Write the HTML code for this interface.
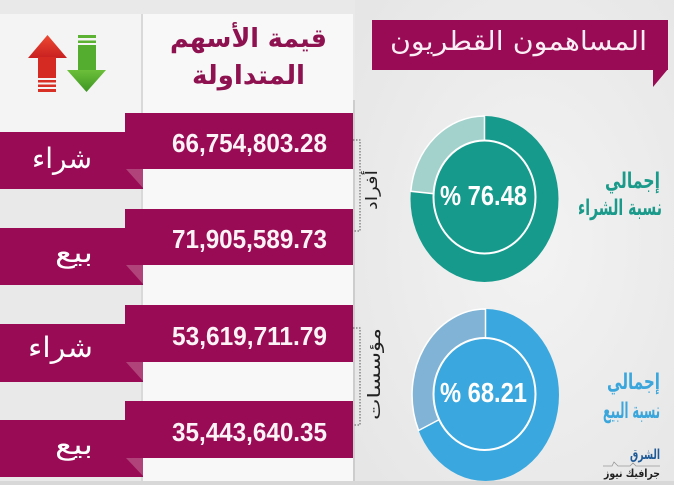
<!DOCTYPE html>
<html><head><meta charset="utf-8">
<style>
html,body{margin:0;padding:0;background:#e9e9e9;}
svg{display:block;}
.ar{font-family:"DejaVu Sans","Liberation Sans",sans-serif;}
.num{font-family:"Liberation Sans",sans-serif;font-weight:bold;}
</style></head>
<body>
<svg width="674" height="485" viewBox="0 0 674 485" xmlns="http://www.w3.org/2000/svg">
<defs>
  <radialGradient id="bgR" cx="0.55" cy="0.5" r="0.7">
    <stop offset="0" stop-color="#f3f3f3"/>
    <stop offset="1" stop-color="#e6e6e6"/>
  </radialGradient>
  <linearGradient id="red" x1="0" y1="0" x2="0" y2="1">
    <stop offset="0" stop-color="#ee4a33"/>
    <stop offset="1" stop-color="#c81f1f"/>
  </linearGradient>
  <linearGradient id="green" x1="0" y1="0" x2="0" y2="1">
    <stop offset="0" stop-color="#6bbf3a"/>
    <stop offset="1" stop-color="#3e9624"/>
  </linearGradient>
</defs>

<!-- backgrounds -->
<rect x="0" y="0" width="674" height="485" fill="#e9e9e9"/>
<rect x="355" y="0" width="319" height="485" fill="url(#bgR)"/>
<rect x="0" y="14" width="141" height="118" fill="#f4f4f4"/>
<rect x="141" y="14" width="2" height="471" fill="#d9d9d9"/>
<rect x="143" y="14" width="210" height="471" fill="#f8f8f8"/>
<rect x="353" y="100" width="2" height="385" fill="#cdcdcd"/>
<rect x="0" y="481" width="674" height="4" fill="#d8d8d8"/>

<!-- arrows -->
<polygon points="28,58 67,58 47.5,35" fill="url(#red)"/>
<rect x="38" y="57" width="18" height="21" fill="#d42a22"/>
<rect x="38" y="80" width="18" height="2.5" fill="#d93025"/>
<rect x="38" y="84.5" width="18" height="2.5" fill="#d93025"/>
<rect x="38" y="89" width="18" height="3" fill="#d93025"/>

<rect x="78" y="35" width="18" height="3" fill="#5cb233"/>
<rect x="78" y="40.5" width="18" height="2.5" fill="#5cb233"/>
<rect x="78" y="45" width="18" height="26" fill="#55ad2f"/>
<polygon points="67,70 106,70 86.5,92" fill="url(#green)"/>

<!-- header middle -->
<text class="ar" x="248.5" y="47" font-size="26" font-weight="bold" fill="#8e1150" text-anchor="middle" textLength="157" lengthAdjust="spacingAndGlyphs">قيمة الأسهم</text>
<text class="ar" x="248.5" y="84" font-size="26" font-weight="bold" fill="#8e1150" text-anchor="middle" textLength="113" lengthAdjust="spacingAndGlyphs">المتداولة</text>

<!-- bars -->
<g fill="#990c55">
  <rect x="125" y="113" width="228" height="56"/>
  <rect x="0" y="132" width="143" height="57"/>
  <rect x="125" y="209" width="228" height="56"/>
  <rect x="0" y="228" width="143" height="57"/>
  <rect x="125" y="305" width="228" height="57"/>
  <rect x="0" y="324" width="143" height="58"/>
  <rect x="125" y="401" width="228" height="57"/>
  <rect x="0" y="420" width="143" height="57"/>
</g>
<g fill="#b0447a">
  <polygon points="126,169 143,169 143,188"/>
  <polygon points="126,265 143,265 143,284"/>
  <polygon points="126,362 143,362 143,381"/>
  <polygon points="126,458 143,458 143,476"/>
</g>

<!-- numbers -->
<g class="num" font-size="26" fill="#fdf3f7">
  <text x="172" y="152" textLength="155" lengthAdjust="spacingAndGlyphs">66,754,803.28</text>
  <text x="172" y="248" textLength="155" lengthAdjust="spacingAndGlyphs">71,905,589.73</text>
  <text x="172" y="345" textLength="155" lengthAdjust="spacingAndGlyphs">53,619,711.79</text>
  <text x="172" y="441" textLength="155" lengthAdjust="spacingAndGlyphs">35,443,640.35</text>
</g>

<!-- labels -->
<g class="ar" font-size="28" fill="#ffffff" text-anchor="middle">
  <text x="62" y="168" textLength="60" lengthAdjust="spacingAndGlyphs">شراء</text>
  <text x="74" y="262" textLength="38" lengthAdjust="spacingAndGlyphs">بيع</text>
  <text x="60.5" y="357" textLength="65" lengthAdjust="spacingAndGlyphs">شراء</text>
  <text x="74" y="454" textLength="38" lengthAdjust="spacingAndGlyphs">بيع</text>
</g>

<!-- brackets -->
<path d="M353,140 H360 V231 H353" fill="none" stroke="#555" stroke-width="1" stroke-dasharray="1.5 1.5"/>
<path d="M353,328 H360 V425 H353" fill="none" stroke="#555" stroke-width="1" stroke-dasharray="1.5 1.5"/>
<text class="ar" transform="translate(377,190) rotate(-90)" x="0" y="0" font-size="16" fill="#222" text-anchor="middle" textLength="40" lengthAdjust="spacingAndGlyphs">أفراد</text>
<text class="ar" transform="translate(380,374) rotate(-90)" x="0" y="0" font-size="17" fill="#222" text-anchor="middle" textLength="92" lengthAdjust="spacingAndGlyphs">مؤسسات</text>

<!-- right header -->
<rect x="372" y="20" width="296" height="50" fill="#990c55"/>
<polygon points="653,69 668,69 653,87" fill="#990c55"/>
<text class="ar" x="518.5" y="50" font-size="26" fill="#fbeef4" text-anchor="middle" textLength="257" lengthAdjust="spacingAndGlyphs">المساهمون القطريون</text>

<!-- donut 1 -->
<ellipse cx="484.5" cy="199" rx="74" ry="83" fill="#159a8c"/>
<path d="M484.5,199 L484.5,116 A74,83 0 0 0 410.8,191.3 Z" fill="#a3d2cc" stroke="#ffffff" stroke-width="1.5"/>
<ellipse cx="484.5" cy="197" rx="51" ry="56.5" fill="#159a8c" stroke="#ffffff" stroke-width="2"/>
<text class="num" x="440" y="205" font-size="28" fill="#ffffff" textLength="87" lengthAdjust="spacingAndGlyphs">% 76.48</text>

<!-- donut 2 -->
<ellipse cx="485.5" cy="395" rx="73.5" ry="86" fill="#3aa8de"/>
<path d="M485.5,395 L485.5,309 A73.5,86 0 0 0 418.6,430.5 Z" fill="#80b3d5" stroke="#ffffff" stroke-width="1.5"/>
<ellipse cx="484.5" cy="394" rx="51" ry="56" fill="#3aa8de" stroke="#ffffff" stroke-width="2"/>
<text class="num" x="440" y="402" font-size="28" fill="#ffffff" textLength="87" lengthAdjust="spacingAndGlyphs">% 68.21</text>

<!-- right labels -->
<g class="ar" font-weight="bold" font-size="22" text-anchor="middle">
  <text x="632.5" y="188" fill="#1a9a8a" textLength="55" lengthAdjust="spacingAndGlyphs">إجمالي</text>
  <text x="620" y="215" fill="#1a9a8a" textLength="84" lengthAdjust="spacingAndGlyphs">نسبة الشراء</text>
  <text x="633.5" y="389" fill="#3aa6dc" textLength="53" lengthAdjust="spacingAndGlyphs">إجمالي</text>
  <text x="631.5" y="418" fill="#3aa6dc" textLength="57" lengthAdjust="spacingAndGlyphs">نسبة البيع</text>
</g>

<!-- logo -->
<text class="ar" x="645" y="459" font-size="14" font-weight="bold" fill="#1f5a98" text-anchor="middle" textLength="30" lengthAdjust="spacingAndGlyphs">الشرق</text>
<path d="M603,466 L612,466 L614,462 L618,466 L630,466 L633,463 L636,466 L660,466" fill="none" stroke="#999" stroke-width="0.8"/>
<text class="ar" x="632" y="477" font-size="11" font-weight="bold" fill="#222" text-anchor="middle" textLength="56" lengthAdjust="spacingAndGlyphs">جرافيك نيوز</text>
</svg>
</body></html>
